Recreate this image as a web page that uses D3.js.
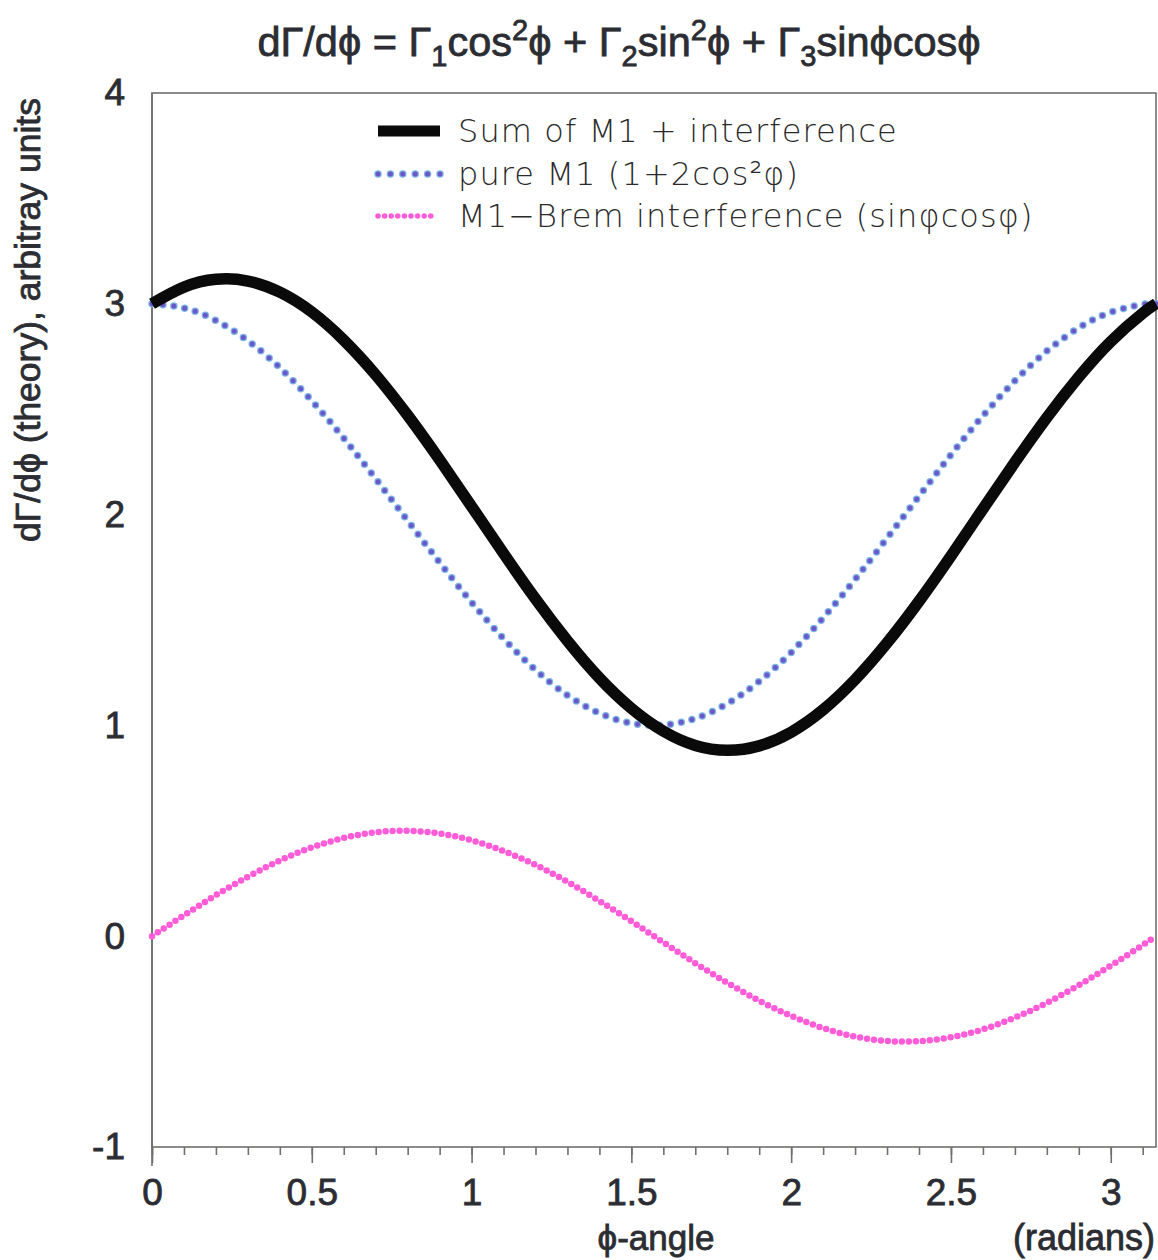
<!DOCTYPE html>
<html>
<head>
<meta charset="utf-8">
<script src="https://cdn.jsdelivr.net/npm/d3@7"></script>
<style>
  html, body { margin: 0; padding: 0; background: #fff; }
  svg { display: block; }
  .tick-label, .axis-title, .title {
    font-family: "Liberation Sans", Arial, Helvetica, sans-serif;
    fill: #2b2d33; stroke: #2b2d33; stroke-width: 0.8px;
  }
  .legend-text { font-family: "DejaVu Sans", sans-serif; font-weight: 200; fill: #2a2a2a; letter-spacing: 1.1px; }
</style>
</head>
<body>
<script>
// Angle samples (radians) and the three curves evaluated at them
const phi = [0, 0.1, 0.2, 0.3, 0.4, 0.5, 0.6, 0.7, 0.8, 0.9, 1.0, 1.1, 1.2, 1.3, 1.4, 1.5,
             1.6, 1.7, 1.8, 1.9, 2.0, 2.1, 2.2, 2.3, 2.4, 2.5, 2.6, 2.7, 2.8, 2.9, 3.0, 3.1, 3.1416];

const sumM1Interference = [3.000, 3.079, 3.116, 3.108, 3.055, 2.961, 2.828, 2.663, 2.471, 2.260, 2.039,
                           1.816, 1.600, 1.401, 1.225, 1.081, 0.973, 0.905, 0.882, 0.903, 0.968, 1.074,
                           1.217, 1.391, 1.589, 1.804, 2.027, 2.248, 2.460, 2.653, 2.821, 2.955, 3.000];

const pureM1 = [3.000, 2.980, 2.921, 2.825, 2.697, 2.540, 2.362, 2.170, 1.971, 1.773, 1.584,
                1.412, 1.263, 1.143, 1.058, 1.010, 1.002, 1.033, 1.103, 1.209, 1.346, 1.510,
                1.693, 1.888, 2.087, 2.284, 2.469, 2.635, 2.776, 2.886, 2.960, 2.997, 3.000];

const interference = [0.000, 0.099, 0.195, 0.282, 0.359, 0.421, 0.466, 0.493, 0.500, 0.487, 0.455,
                      0.404, 0.338, 0.258, 0.167, 0.071, -0.029, -0.128, -0.221, -0.306, -0.378, -0.436,
                      -0.476, -0.497, -0.498, -0.479, -0.442, -0.386, -0.316, -0.232, -0.140, -0.042, 0.000];

const yTicks = [-1, 0, 1, 2, 3, 4];
const xMajorTicks = [0, 0.5, 1, 1.5, 2, 2.5, 3];
const xMinorTicks = d3.range(0, 32).map(i => i / 10);

const legendLabels = [
  "Sum of M1 + interference",
  "pure M1 (1+2cos²φ)",
  "M1\u2212Brem interference (sinφcosφ)"
];

const W = 1158, H = 1260;
const margin = { left: 152, right: 1, top: 93, bottom: 113 };

const svg = d3.select("body").append("svg").attr("width", W).attr("height", H);

const x = d3.scaleLinear().domain([0, Math.PI]).range([margin.left, W - margin.right - 1]);
const y = d3.scaleLinear().domain([-1, 4]).range([H - margin.bottom, margin.top]);

const axisColor = "#6f706c";

// Frame
svg.append("rect")
  .attr("x", x(0)).attr("y", y(4))
  .attr("width", x(Math.PI) - x(0)).attr("height", y(-1) - y(4))
  .attr("fill", "none").attr("stroke", axisColor).attr("stroke-width", 1.6);

// Left axis line runs slightly past the bottom frame
svg.append("line")
  .attr("x1", x(0)).attr("x2", x(0))
  .attr("y1", y(4)).attr("y2", y(-1) + 19)
  .attr("stroke", axisColor).attr("stroke-width", 1.6);

// Bottom axis: minor ticks every 0.1, major every 0.5
const xMinorAxis = d3.axisBottom(x).tickValues(xMinorTicks).tickSize(8).tickFormat("");
const gMinor = svg.append("g").attr("transform", `translate(0,${y(-1)})`).call(xMinorAxis);
gMinor.select(".domain").remove();
gMinor.selectAll("line").attr("stroke", axisColor).attr("stroke-width", 1.6);

const xMajorAxis = d3.axisBottom(x).tickValues(xMajorTicks).tickSize(16).tickPadding(15).tickFormat(d3.format("~g"));
const gMajor = svg.append("g").attr("transform", `translate(0,${y(-1)})`).call(xMajorAxis);
gMajor.select(".domain").remove();
gMajor.selectAll("line").attr("stroke", axisColor).attr("stroke-width", 1.6);
gMajor.selectAll("text")
  .attr("class", "tick-label")
  .attr("font-size", 37)
  .attr("dy", "0.72em");

// Left axis labels only (no ticks drawn)
const yAxis = d3.axisLeft(y).tickValues(yTicks).tickSize(0).tickPadding(27).tickFormat(d3.format("d"));
const gY = svg.append("g").attr("transform", `translate(${x(0)},0)`).call(yAxis);
gY.select(".domain").remove();
gY.selectAll("text")
  .attr("class", "tick-label")
  .attr("font-size", 37)
  .text(d => d < 0 ? "-" + Math.abs(d) : d);

// Curves
const line = (vals) => d3.line()
  .x((d, i) => x(phi[i]))
  .y(d => y(d))
  .curve(d3.curveNatural)(vals);

const plot = svg.append("g");

// M1-Brem interference: fine pink dots
plot.append("path").attr("d", line(interference))
  .attr("fill", "none").attr("stroke", "#ff5cd8").attr("stroke-width", 6.5)
  .attr("stroke-linecap", "round").attr("stroke-dasharray", "0 7");

// pure M1: larger blue/violet dots with a pale rim
plot.append("path").attr("d", line(pureM1))
  .attr("fill", "none").attr("stroke", "#7fb4e6").attr("stroke-width", 7.5)
  .attr("stroke-linecap", "round").attr("stroke-dasharray", "0 11");
plot.append("path").attr("d", line(pureM1))
  .attr("fill", "none").attr("stroke", "#6a58c8").attr("stroke-width", 5)
  .attr("stroke-linecap", "round").attr("stroke-dasharray", "0 11");

// Sum: heavy black line
plot.append("path").attr("d", line(sumM1Interference))
  .attr("fill", "none").attr("stroke", "#0a0a0a").attr("stroke-width", 11.5)
  .attr("stroke-linejoin", "round");

// Legend
const legend = svg.append("g");
const legendX0 = 378, legendX1 = 440, legendTextX = 458;
const rowY = [131, 174, 216];

legend.append("line").attr("x1", legendX0).attr("x2", legendX1).attr("y1", rowY[0]).attr("y2", rowY[0])
  .attr("stroke", "#0a0a0a").attr("stroke-width", 11);
legend.append("line").attr("x1", legendX0).attr("x2", legendX1).attr("y1", rowY[1]).attr("y2", rowY[1])
  .attr("stroke", "#7fb4e6").attr("stroke-width", 7.5).attr("stroke-linecap", "round").attr("stroke-dasharray", "0 12.4");
legend.append("line").attr("x1", legendX0).attr("x2", legendX1).attr("y1", rowY[1]).attr("y2", rowY[1])
  .attr("stroke", "#6a58c8").attr("stroke-width", 5).attr("stroke-linecap", "round").attr("stroke-dasharray", "0 12.4");
legend.append("line").attr("x1", legendX0).attr("x2", legendX1 - 3).attr("y1", rowY[2]).attr("y2", rowY[2])
  .attr("stroke", "#ff5cd8").attr("stroke-width", 5.5).attr("stroke-linecap", "round").attr("stroke-dasharray", "0 6.6");

legend.selectAll("text.legend-text").data(legendLabels).enter().append("text")
  .attr("class", "legend-text")
  .attr("x", legendTextX)
  .attr("y", (d, i) => rowY[i] + 11)
  .attr("font-size", 32)
  .text(d => d);

// Title with sub/superscripts
const title = svg.append("text").attr("class", "title")
  .attr("x", 619).attr("y", 56).attr("text-anchor", "middle").attr("font-size", 41.5);
const titleParts = [
  ["dΓ/dϕ = Γ", 0], ["1", 1], ["cos", 0], ["2", -1], ["ϕ + Γ", 0], ["2", 1], ["sin", 0], ["2", -1],
  ["ϕ + Γ", 0], ["3", 1], ["sinϕcosϕ", 0]
];
let shift = 0;
titleParts.forEach(([t, s]) => {
  const target = s === 1 ? 10 : s === -1 ? -16 : 0;
  title.append("tspan")
    .attr("dy", target - shift)
    .attr("font-size", s === 0 ? 41.5 : 29)
    .text(t);
  shift = target;
});

// Axis titles
svg.append("text").attr("class", "axis-title")
  .attr("transform", `translate(40,320) rotate(-90)`)
  .attr("text-anchor", "middle").attr("font-size", 35.5)
  .text("dΓ/dϕ (theory), arbitray units");

svg.append("text").attr("class", "axis-title")
  .attr("x", 656).attr("y", 1250).attr("text-anchor", "middle").attr("font-size", 35)
  .text("ϕ-angle");

svg.append("text").attr("class", "axis-title")
  .attr("x", 1155).attr("y", 1250).attr("text-anchor", "end").attr("font-size", 36)
  .text("(radians)");
</script>
</body>
</html>
